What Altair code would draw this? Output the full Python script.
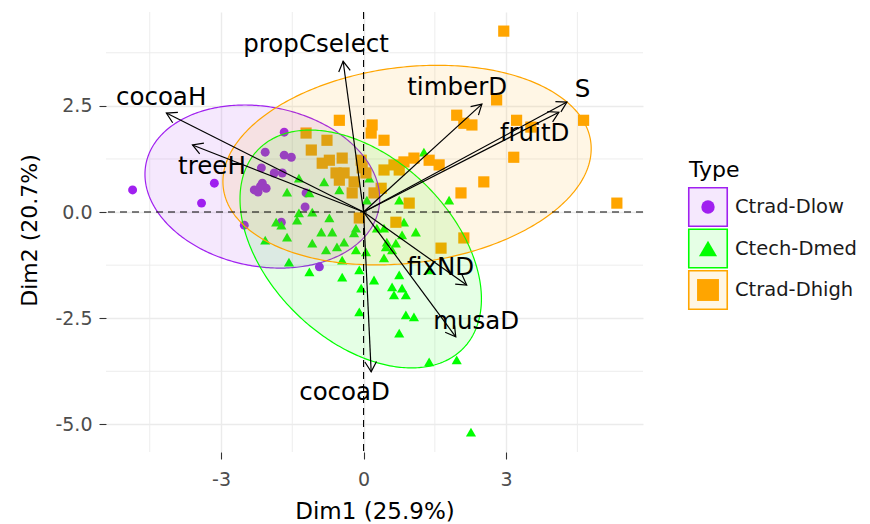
import altair as alt
import numpy as np
import pandas as pd

# ---------------- data ----------------
types = ["Ctrad-Dlow", "Ctech-Dmed", "Ctrad-Dhigh"]
colors = ["#A020F0", "#00FF00", "#FFA500"]
shapes = ["circle", "triangle-up", "square"]

dlow_x = [-4.86, -3.41, -3.14, -1.67, -2.07, -1.67, -1.52, -2.15, -1.88, -1.71,
          -2.13, -2.30, -2.05, -2.22, -2.17, -1.21, -1.23, -2.51, -1.73, -0.93]
dlow_y = [0.52, 0.21, 0.68, 1.88, 1.41, 1.34, 1.29, 1.04, 0.92, 0.92,
          0.68, 0.52, 0.56, 0.47, 0.61, 0.45, 0.12, -0.31, -0.24, -1.29]

dmed_x = [-1.61, -0.83, -0.51, -1.14, -1.36, -1.40, -1.08, -1.84, -1.73, -0.72,
          -0.89, -0.66, -0.16, -1.61, -1.08, -0.79, -0.56, -0.41, -0.20, -0.16,
          0.05, -1.57, -1.14, -0.45, -0.09, -0.45, 0.22, -0.05, -0.09, 0.43,
          0.60, 0.75, 0.60, 0.81, 0.64, 0.89, 0.89, 1.06, 0.75, 1.38,
          1.96, 2.26, 0.85, 1.10, 0.81, 0.68, 0.28, 0.49, 0.47, 1.38,
          1.80, 0.75, 1.27, 0.12, -2.07, -1.36, 0.07, 0.43]
dmed_y = [0.47, 0.71, 0.52, 0.45, -0.02, -0.19, 0.00, -0.24, -0.31, -0.14,
          -0.47, -0.47, -0.38, -0.59, -0.73, -0.89, -0.82, -0.71, -0.49, -0.89,
          -0.94, -1.18, -1.41, -1.13, -1.36, -1.53, -1.60, -1.79, -2.35, -1.08,
          -0.89, -1.48, -1.76, -1.79, -1.95, -1.95, -2.42, -2.47, -2.85, -3.53,
          -3.48, -5.18, -0.24, -0.47, -0.54, -0.73, -0.38, -0.71, -0.82, -1.36,
          0.28, 0.28, 1.41, 0.80, -0.66, 0.80, 0.28, -0.38]

dhigh_x = [-0.51, 0.18, 0.16, 0.43, -1.21, -0.77, -1.10, -0.45, -0.72, -0.87,
           -0.05, -0.03, 0.05, -0.58, -0.41, -0.51, -0.20, -0.24, 0.43, 0.64,
           0.85, 1.06, 0.75, 0.37, 0.96, -0.09, 0.68, 2.95, 2.80, 1.96,
           2.28, 2.11, 3.22, 4.63, 3.16, 2.53, 2.05, 5.33, 2.11, 1.63,
           0.22, 1.38, 1.59, 3.52]
dhigh_y = [2.16, 2.05, 1.86, 1.69, 1.86, 1.69, 1.46, 1.27, 1.22, 1.15,
           1.22, 1.04, 0.92, 0.92, 0.92, 0.75, 0.71, 0.45, 0.99, 1.11,
           1.18, 1.27, 0.99, 0.56, 0.21, -0.14, -0.24, 4.26, 2.64, 2.28,
           2.05, 2.09, 2.16, 2.16, 1.29, 0.71, 0.45, 0.21, -0.61, -0.85,
           0.45, 1.22, 1.11, 2.00]

var_names = ["cocoaH", "treeH", "propCselect", "timberD", "S", "fruitD",
             "fixND", "musaD", "cocoaD"]
var_x = [-4.15, -3.60, -0.43, 2.49, 4.28, 4.11, 2.17, 1.94, 0.16]
var_y = [2.33, 1.58, 3.55, 2.54, 2.59, 2.35, -1.72, -2.94, -3.76]
lab_x = [-4.26, -3.19, -1.00, 1.97, 4.61, 3.60, 1.62, 2.37, -0.40]
lab_y = [2.68, 1.06, 3.93, 2.92, 2.87, 1.84, -1.32, -2.59, -4.26]

# concentration ellipses: centre, half-extent in x and y, correlation
ell_cx = [-2.13, -0.06, 0.915]
ell_cy = [0.60, -0.87, 1.105]
ell_sx = [2.47, 2.54, 3.875]
ell_sy = [1.92, 2.80, 2.35]
ell_rho = [-0.15, -0.42, 0.165]

x_ticks = [-3, 0, 3]
y_ticks = [-5.0, -2.5, 0.0, 2.5]
x_minor = [-4.5, -1.5, 1.5, 4.5]
y_minor = [-3.75, -1.25, 1.25, 3.75]
x_domain = [-5.42, 5.88]
y_domain = [-5.65, 4.71]

# ---------------- tables ----------------
W, H = 537, 440
pts = pd.concat([
    pd.DataFrame({"x": dlow_x, "y": dlow_y, "Type": types[0]}),
    pd.DataFrame({"x": dmed_x, "y": dmed_y, "Type": types[1]}),
    pd.DataFrame({"x": dhigh_x, "y": dhigh_y, "Type": types[2]}),
], ignore_index=True)

t = np.linspace(0, np.pi, 181)
ell_rows = []
for k, ty in enumerate(types):
    sx, sy, r = ell_sx[k], ell_sy[k], ell_rho[k]
    dx = sx * np.cos(t)
    up = r * sy * np.cos(t) + sy * np.sqrt(1 - r * r) * np.sin(t)
    lo = r * sy * np.cos(t) - sy * np.sqrt(1 - r * r) * np.sin(t)
    ell_rows.append(pd.DataFrame({"x": ell_cx[k] + dx, "y": ell_cy[k] + up,
                                  "y2": ell_cy[k] + lo, "Type": ty}))
ell = pd.concat(ell_rows, ignore_index=True)

kx = W / (x_domain[1] - x_domain[0])
ky = H / (y_domain[1] - y_domain[0])
vars_df = pd.DataFrame({"name": var_names, "x": var_x, "y": var_y,
                        "x0": 0.0, "y0": 0.0, "lx": lab_x, "ly": lab_y})
vars_df["ang"] = np.degrees(np.arctan2(vars_df["x"] * kx, vars_df["y"] * ky)) % 360

FONT = "DejaVu Sans"
XS = alt.Scale(domain=x_domain, nice=False, zero=False)
YS = alt.Scale(domain=y_domain, nice=False, zero=False)
MINUS = "replace(datum.label, '\u2212', '-')"
AX_X = alt.Axis(values=x_ticks, title="Dim1 (25.9%)", grid=True, gridColor="#EBEBEB",
                gridWidth=1.4, domain=False, ticks=True, tickSize=7, tickColor="#333333",
                tickWidth=1.1, labelFont=FONT, labelFontSize=19, labelColor="#4D4D4D",
                labelPadding=11, labelExpr=MINUS, titleFont=FONT, titleFontSize=23,
                titleColor="#000000", titleFontWeight="normal", titleY=66,
                titleBaseline="alphabetic")
AX_Y = alt.Axis(values=y_ticks, format=".1f", title="Dim2 (20.7%)", grid=True,
                gridColor="#EBEBEB", gridWidth=1.4, domain=False, ticks=True, tickSize=7,
                tickColor="#333333", tickWidth=1.1, labelFont=FONT, labelFontSize=19,
                labelColor="#4D4D4D", labelPadding=7, labelExpr=MINUS, titleFont=FONT,
                titleFontSize=22, titleColor="#000000", titleFontWeight="normal",
                titleX=-77, titleY=218, titleAngle=270, titleBaseline="middle")

CSCALE = alt.Scale(domain=types, range=colors)
SSCALE = alt.Scale(domain=types, range=shapes)

X = lambda f="x": alt.X(f"{f}:Q", scale=XS, axis=AX_X)
Y = lambda f="y": alt.Y(f"{f}:Q", scale=YS, axis=AX_Y)

grid_x = alt.Chart(pd.DataFrame({"x": x_minor})).mark_rule(
    color="#EBEBEB", strokeWidth=0.9).encode(x=X())
grid_y = alt.Chart(pd.DataFrame({"y": y_minor})).mark_rule(
    color="#EBEBEB", strokeWidth=0.9).encode(y=Y())

points = alt.Chart(pts).mark_point(filled=True, opacity=1).encode(
    x=X(), y=Y(),
    color=alt.Color("Type:N", scale=CSCALE, legend=None),
    shape=alt.Shape("Type:N", scale=SSCALE, legend=None),
    size=alt.Size("Type:N", scale=alt.Scale(domain=types, range=[80, 125, 90]), legend=None),
)

ellipses = alt.Chart(ell).mark_area(fillOpacity=0.1, strokeWidth=1.2).encode(
    x=X(), y=alt.Y("y:Q", scale=YS, axis=AX_Y, stack=None), y2="y2:Q",
    color=alt.Color("Type:N", scale=CSCALE, legend=None),
    stroke=alt.Stroke("Type:N", scale=CSCALE, legend=None),
    detail="Type:N",
)

vline = alt.Chart(pd.DataFrame({"x": [0.0]})).mark_rule(
    color="black", strokeDash=[7, 5], strokeWidth=1.1).encode(x=X())
hline = alt.Chart(pd.DataFrame({"y": [0.0]})).mark_rule(
    color="black", strokeDash=[7, 5], strokeWidth=1.1).encode(y=Y())

arrows = alt.Chart(vars_df).mark_rule(color="black", strokeWidth=1.2).encode(
    x=X("x0"), y=Y("y0"), x2="x:Q", y2="y:Q")
heads = alt.Chart(vars_df).mark_point(
    shape="M -0.58 1 L 0 0 L 0.58 1", size=400, filled=False, stroke="black",
    strokeWidth=1.2, opacity=1).encode(
    x=X(), y=Y(), angle=alt.Angle("ang:Q", scale=None))
labels = alt.Chart(vars_df).mark_text(
    font=FONT, fontSize=24.5, color="#000000", align="center", baseline="middle").encode(
    x=X("lx"), y=Y("ly"), text="name:N")

main = alt.layer(grid_x, grid_y, points, ellipses, vline, hline, arrows, heads, labels)

# ---------------- legend (ggplot style keys) ----------------
leg = pd.DataFrame({"Type": types})
LY = alt.Y("Type:N", scale=alt.Scale(type="point", domain=types, range=[195, 278],
                                     padding=0), axis=None)
boxes = alt.Chart(leg).mark_point(shape="square", size=1480, filled=True,
                                  fillOpacity=0.1, strokeWidth=1.6, opacity=1).encode(
    x=alt.value(602), y=LY,
    color=alt.Color("Type:N", scale=CSCALE, legend=None),
    stroke=alt.Stroke("Type:N", scale=CSCALE, legend=None))
keys = alt.Chart(leg).mark_point(filled=True, opacity=1).encode(
    x=alt.value(602), y=LY,
    color=alt.Color("Type:N", scale=CSCALE, legend=None),
    shape=alt.Shape("Type:N", scale=SSCALE, legend=None),
    size=alt.Size("Type:N", scale=alt.Scale(domain=types, range=[180, 480, 340]),
                  legend=None))
leg_labels = alt.Chart(leg).mark_text(font=FONT, fontSize=19.5, color="#1A1A1A",
                                      align="left", baseline="middle").encode(
    x=alt.value(629), y=LY, text="Type:N")
leg_title = alt.Chart(pd.DataFrame({"t": ["Type"]})).mark_text(
    font=FONT, fontSize=22, color="#000000", align="left", baseline="middle").encode(
    x=alt.value(583), y=alt.value(158), text="t:N")
legend = alt.layer(boxes, keys, leg_labels, leg_title)

chart = alt.layer(main, legend).resolve_scale(
    y="independent", size="independent"
).properties(
    width=W, height=H,
    padding={"left": 98, "top": 4, "right": 218, "bottom": 70},
    autosize=alt.AutoSizeParams(type="none"),
    background="white",
).configure_view(stroke=None)

chart.save("out.html", embed_options={"renderer": "svg", "actions": False})
